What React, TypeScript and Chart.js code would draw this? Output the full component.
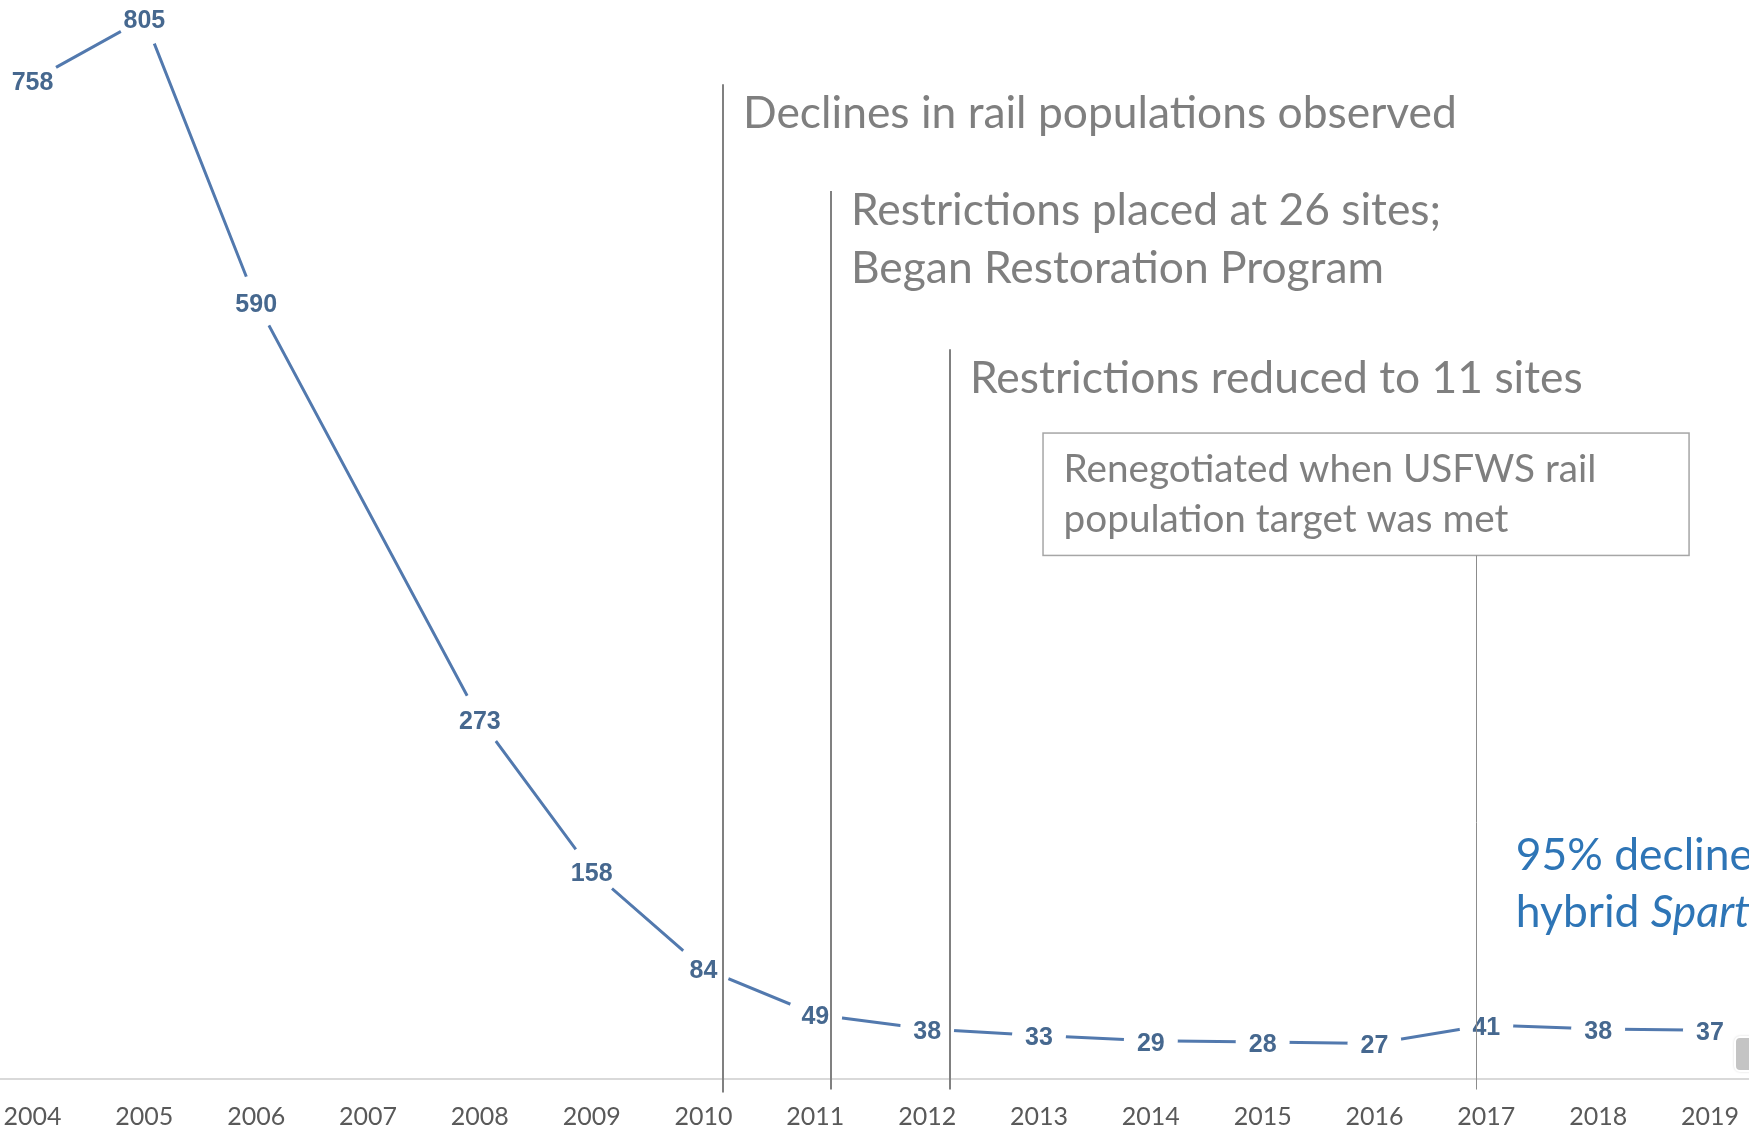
import React, { useEffect, useRef } from "react";
import { Chart, registerables } from "chart.js";

Chart.register(...registerables);

// ---- data ----
const years = [2004, 2005, 2006, 2007, 2008, 2009, 2010, 2011, 2012, 2013, 2014, 2015, 2016, 2017, 2018, 2019];
const railCounts: (number | null)[] = [758, 805, 590, null, 273, 158, 84, 49, 38, 33, 29, 28, 27, 41, 38, 37];

// event marker lines (x in years, y extents in count units)
const eventX = [2010.17, 2011.14, 2012.2];
const eventTop = [755, 674, 554];
const eventTextY = [722, 648, 521];
const eventLabels = [
  ["Declines in rail populations observed"],
  ["Restrictions placed at 26 sites;", "Began Restoration Program"],
  ["Restrictions reduced to 11 sites"],
];

// callout box (x in years, y in count units)
const boxLines = ["Renegotiated when USFWS rail", "population target was met"];
const boxX = [2013.036, 2018.813];
const boxY = [490.3, 397.4];
const boxTextAnchor = [2013.22, 453];
const calloutX = 2016.91;

// blue note
const noteLine1 = "95% decline in";
const noteLine2Plain = "hybrid ";
const noteLine2Italic = "Spartina";
const noteAnchor = [2017.264, 158.3];

const LINE_COLOR = "#5279ae";
const LABEL_COLOR = "#46688f";
const GRAY_TEXT = "#7f7f7f";
const FONT = "Lato, 'Open Sans', sans-serif";

function fitSize(ctx: CanvasRenderingContext2D, text: string, target: number, style = "") {
  ctx.font = `${style} 48px ${FONT}`;
  const w = ctx.measureText(text).width;
  return (48 * target) / w;
}

const dataLabelPlugin = {
  id: "dataLabels",
  afterDatasetsDraw(chart: any) {
    const { ctx } = chart;
    const meta = chart.getDatasetMeta(0);
    ctx.save();
    ctx.font = "bold 25px 'Liberation Sans', Arial, sans-serif";
    ctx.fillStyle = LABEL_COLOR;
    ctx.textAlign = "center";
    ctx.textBaseline = "middle";
    meta.data.forEach((pt: any, i: number) => {
      const v = railCounts[i];
      if (v === null || v === undefined) return;
      ctx.fillText(String(v), pt.x, pt.y + 3);
    });
    ctx.restore();
  },
};

const annotationPlugin = {
  id: "annotations",
  afterDraw(chart: any) {
    const { ctx } = chart;
    const x = chart.scales.x;
    const y = chart.scales.y;
    ctx.save();

    const mainSize = fitSize(ctx, eventLabels[0][0], 714);
    const boxSize = fitSize(ctx, boxLines[0], 533);
    const lineGap = 58;

    // event lines
    eventX.forEach((ev, i) => {
      const px = Math.round(x.getPixelForValue(ev));
      ctx.strokeStyle = "#808080";
      ctx.lineWidth = 2;
      ctx.beginPath();
      ctx.moveTo(px, y.getPixelForValue(eventTop[i]));
      ctx.lineTo(px, i === 0 ? y.getPixelForValue(-10.3) : y.getPixelForValue(-8));
      ctx.stroke();

      ctx.fillStyle = GRAY_TEXT;
      ctx.font = `${mainSize}px ${FONT}`;
      ctx.textAlign = "left";
      ctx.textBaseline = "alphabetic";
      const ty = y.getPixelForValue(eventTextY[i]);
      eventLabels[i].forEach((t, j) => {
        ctx.fillText(t, px + 20, ty + j * lineGap);
      });
    });

    // callout box
    const bx1 = x.getPixelForValue(boxX[0]);
    const bx2 = x.getPixelForValue(boxX[1]);
    const by1 = y.getPixelForValue(boxY[0]);
    const by2 = y.getPixelForValue(boxY[1]);
    ctx.strokeStyle = "#a6a6a6";
    ctx.lineWidth = 1.5;
    ctx.strokeRect(bx1, by1, bx2 - bx1, by2 - by1);
    ctx.fillStyle = GRAY_TEXT;
    ctx.font = `${boxSize}px ${FONT}`;
    const btx = x.getPixelForValue(boxTextAnchor[0]);
    const bty = y.getPixelForValue(boxTextAnchor[1]);
    boxLines.forEach((t, j) => ctx.fillText(t, btx, bty + j * 50));

    // callout connector line
    const cx = Math.round(x.getPixelForValue(calloutX)) + 0.5;
    ctx.strokeStyle = "#8c8c8c";
    ctx.lineWidth = 1;
    ctx.beginPath();
    ctx.moveTo(cx, by2);
    ctx.lineTo(cx, y.getPixelForValue(-8));
    ctx.stroke();

    // blue note
    const nx = x.getPixelForValue(noteAnchor[0]);
    const ny = y.getPixelForValue(noteAnchor[1]);
    ctx.fillStyle = "#2e75b6";
    ctx.font = `${mainSize}px ${FONT}`;
    ctx.fillText(noteLine1, nx, ny);
    ctx.fillText(noteLine2Plain, nx, ny + 57);
    const w = ctx.measureText(noteLine2Plain).width;
    ctx.font = `italic ${mainSize}px ${FONT}`;
    ctx.fillText(noteLine2Italic, nx + w, ny + 57);

    // small grey tab at right edge
    ctx.fillStyle = "#c4c4c4";
    ctx.strokeStyle = "#ffffff";
    ctx.lineWidth = 2;
    ctx.shadowColor = "rgba(0,0,0,0.35)";
    ctx.shadowBlur = 3;
    ctx.beginPath();
    (ctx as any).roundRect(1735, 1037, 30, 34, 5);
    ctx.fill();
    ctx.shadowColor = "transparent";
    ctx.stroke();

    ctx.restore();
  },
};

export default function App() {
  const ref = useRef<HTMLCanvasElement>(null);

  useEffect(() => {
    document.body.style.margin = "0";
    const canvas = ref.current!;
    const chart = new Chart(canvas, {
      type: "line",
      data: {
        datasets: [
          {
            data: years.map((yr, i) => ({ x: yr, y: railCounts[i] })) as any,
            borderColor: LINE_COLOR,
            borderWidth: 3,
            pointRadius: 27,
            pointHoverRadius: 27,
            pointBackgroundColor: "#ffffff",
            pointBorderColor: "rgba(0,0,0,0)",
            pointBorderWidth: 0,
            spanGaps: true,
            tension: 0,
            clip: false as any,
          },
        ],
      },
      options: {
        animation: false,
        responsive: false,
        events: [],
        layout: { padding: 0, autoPadding: false },
        plugins: { legend: { display: false }, tooltip: { enabled: false }, title: { display: false } },
        scales: {
          x: {
            type: "linear",
            min: 2003.709,
            max: 2019.349,
            grid: { display: false, drawTicks: false },
            border: { display: true, color: "#d9d9d9", width: 2 },
            ticks: {
              padding: 23,
              color: "#595959",
              font: { family: FONT, size: 25 },
              callback: (v: any) => String(v),
            },
            afterBuildTicks: (scale: any) => {
              scale.ticks = years.map((v) => ({ value: v }));
            },
            afterFit: (scale: any) => {
              scale.height = 52;
              scale.paddingLeft = 0;
              scale.paddingRight = 0;
            },
          },
          y: {
            type: "linear",
            min: 0,
            max: 819,
            display: false,
          },
        },
      },
      plugins: [dataLabelPlugin, annotationPlugin],
    });
    return () => chart.destroy();
  }, []);

  return (
    <div style={{ position: "absolute", left: 0, top: 0, width: 1749, height: 1131, background: "#fff" }}>
      <canvas ref={ref} width={1749} height={1131} style={{ display: "block" }} />
    </div>
  );
}
